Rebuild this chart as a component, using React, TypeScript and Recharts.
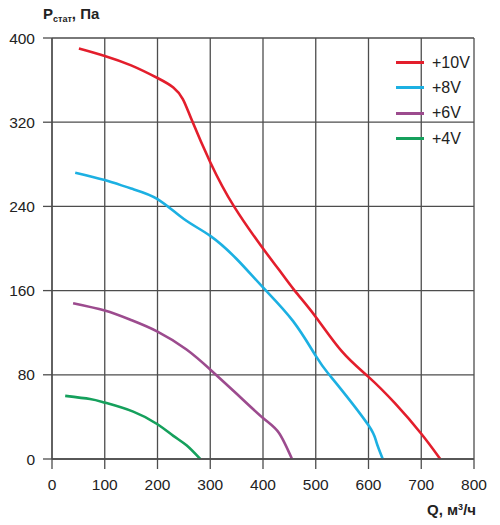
import { LineChart, Line, XAxis, YAxis, CartesianGrid } from 'recharts';

// характеристики вентилятора при разных управляющих напряжениях
const q10 = [51, 100, 150, 200, 230, 248, 265, 300, 345, 400, 430, 460, 500, 550, 600, 650, 700, 736];
const p10 = [390, 383, 374, 362, 353, 342, 322, 282, 240, 200, 180, 160, 135, 102, 78, 53, 24, 0];

const q8 = [44, 100, 150, 200, 250, 300, 350, 400, 457, 500, 524, 550, 600, 615, 627];
const p8 = [272, 265, 257, 247, 228, 212, 190, 163, 131, 98, 81, 65, 32, 16, 0];

const q6 = [40, 100, 150, 200, 255, 300, 350, 400, 430, 455];
const p6 = [148, 141, 132, 121, 104, 85, 62, 39, 25, 0];

const q4 = [25, 72, 100, 154, 200, 230, 255, 281];
const p4 = [60, 57, 53.6, 45, 33, 22, 13, 0];

const xTicks = [0, 100, 200, 300, 400, 500, 600, 700, 800];
const yTicks = [0, 80, 160, 240, 320, 400];

const series = [
  { name: '+10V', color: '#e31e2c', q: q10, p: p10 },
  { name: '+8V', color: '#1cb0e2', q: q8, p: p8 },
  { name: '+6V', color: '#9c4b8e', q: q6, p: p6 },
  { name: '+4V', color: '#15a05c', q: q4, p: p4 },
];

const toRows = (q: number[], p: number[]) => q.map((x, i) => ({ q: x, p: p[i] }));

const gridColor = '#4d4d4d';
const font = 'Arial, "Liberation Sans", sans-serif';

const App = () => {
  return (
    <div style={{ position: 'absolute', left: 0, top: 0, width: 500, height: 525, background: '#fff', fontFamily: font }}>
      <LineChart width={500} height={525} margin={{ top: 38, right: 26, bottom: 0, left: 0 }}>
        <CartesianGrid stroke={gridColor} strokeWidth={1.3} />
        <XAxis
          type="number"
          dataKey="q"
          domain={[0, 800]}
          ticks={xTicks}
          interval={0}
          height={66}
          axisLine={{ stroke: gridColor, strokeWidth: 1.3 }}
          tickLine={{ stroke: gridColor, strokeWidth: 1.3 }}
          tickSize={10}
          tickMargin={10}
          tick={{ fill: '#222', fontSize: 15.5, fontFamily: font }}
          allowDuplicatedCategory={false}
        />
        <YAxis
          type="number"
          domain={[0, 400]}
          ticks={yTicks}
          interval={0}
          width={52}
          axisLine={{ stroke: gridColor, strokeWidth: 1.3 }}
          tickLine={{ stroke: gridColor, strokeWidth: 1.3 }}
          tickSize={9}
          tickMargin={8}
          tick={{ fill: '#222', fontSize: 15.5, fontFamily: font }}
        />
        {series.map((s) => (
          <Line
            key={s.name}
            data={toRows(s.q, s.p)}
            dataKey="p"
            name={s.name}
            type="natural"
            stroke={s.color}
            strokeWidth={2.6}
            dot={false}
            activeDot={false}
            isAnimationActive={false}
          />
        ))}
      </LineChart>

      {/* подпись оси Y */}
      <div style={{ position: 'absolute', left: 43, top: 5, fontWeight: 'bold', fontSize: 15, color: '#222', whiteSpace: 'nowrap' }}>
        P<span style={{ fontSize: 9, position: 'relative', top: 3 }}>стат</span>, Па
      </div>

      {/* подпись оси X */}
      <div style={{ position: 'absolute', left: 427, top: 501, fontWeight: 'bold', fontSize: 15, color: '#222', whiteSpace: 'nowrap' }}>
        Q, м<span style={{ fontSize: 9, position: 'relative', top: -5 }}>3</span>/ч
      </div>

      {/* легенда */}
      <div style={{ position: 'absolute', left: 396, top: 50 }}>
        {series.map((s) => (
          <div key={s.name} style={{ display: 'flex', alignItems: 'center', height: 25.3 }}>
            <div style={{ width: 28, height: 3, background: s.color }} />
            <span style={{ marginLeft: 8, fontSize: 16, color: '#222' }}>{s.name}</span>
          </div>
        ))}
      </div>
    </div>
  );
};

export default App;
